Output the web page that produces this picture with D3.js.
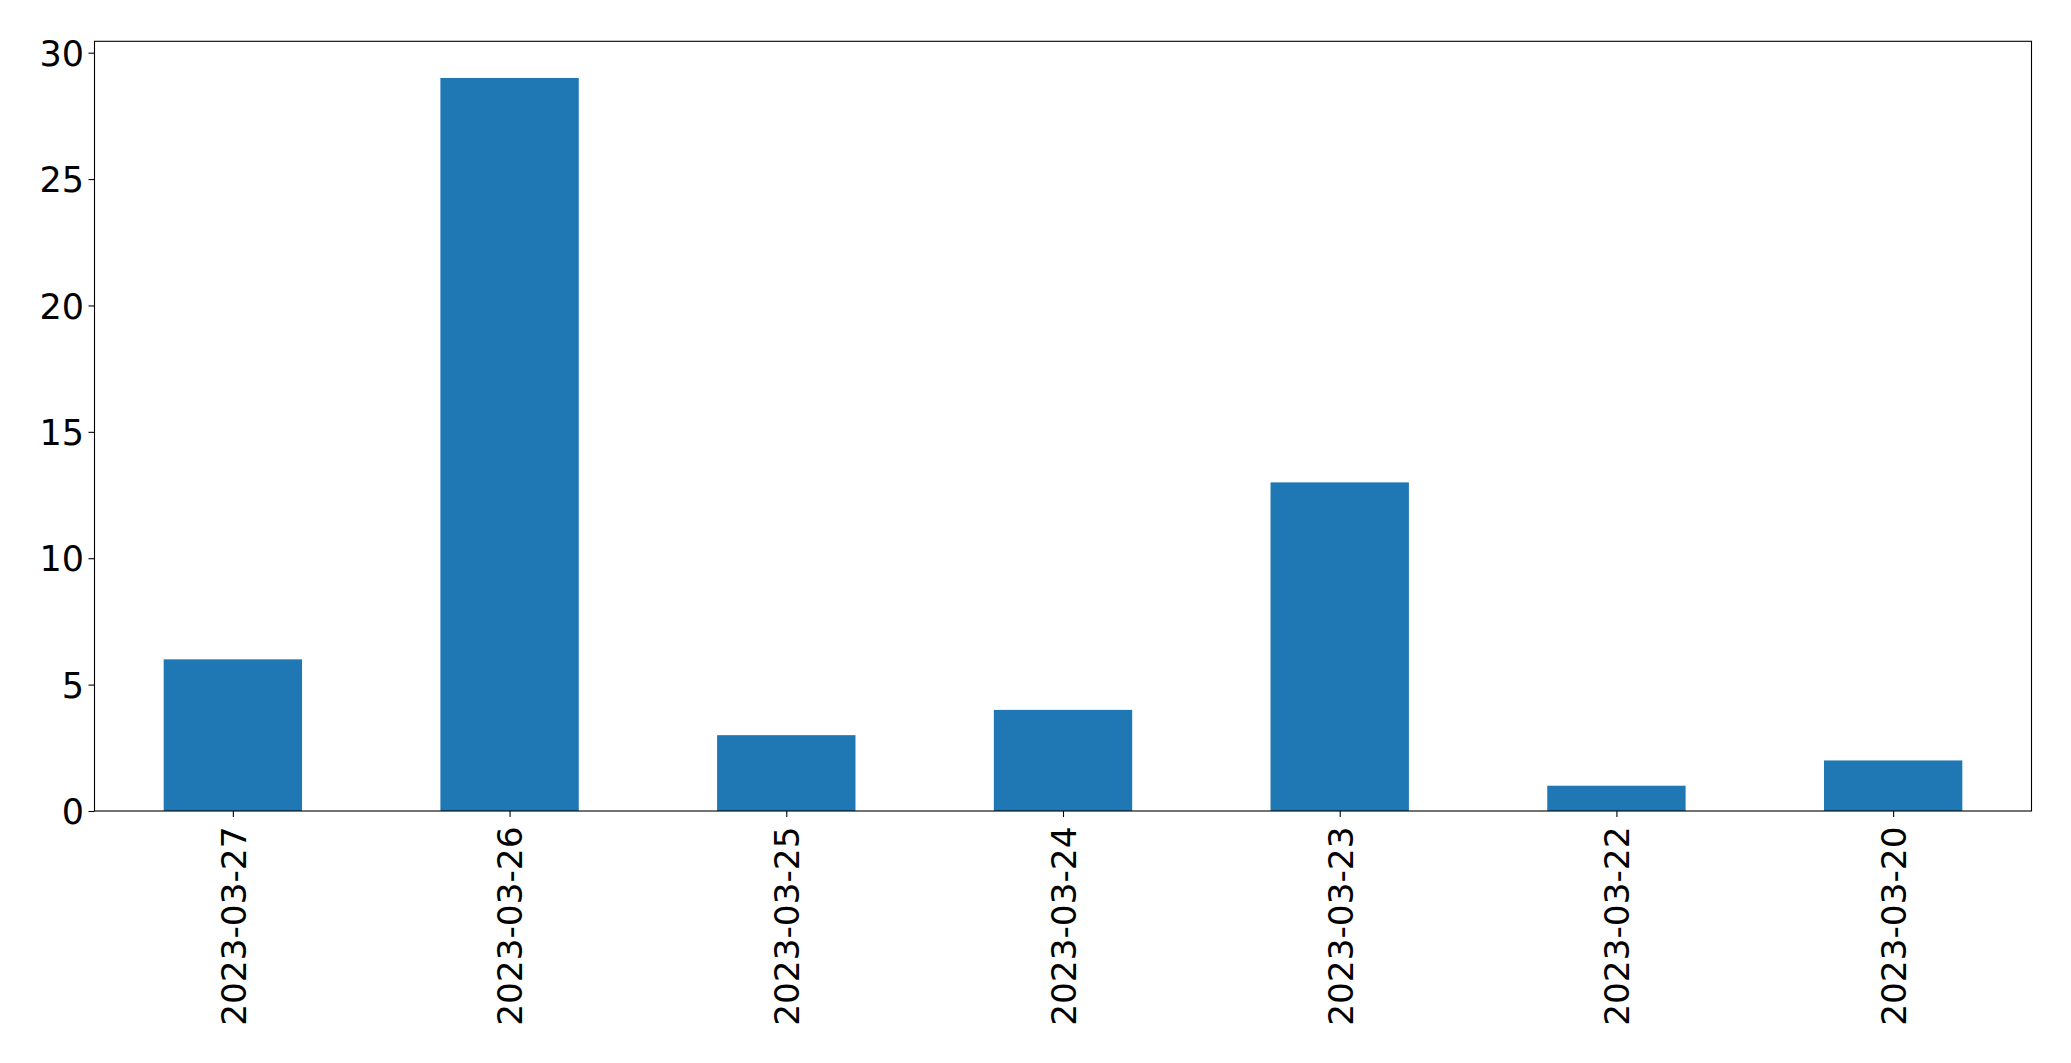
<!DOCTYPE html>
<html><head><meta charset="utf-8">
<script src="https://cdn.jsdelivr.net/npm/d3@7"></script>
<style>body{margin:0;background:#fff}svg{display:block}text{font-family:"DejaVu Sans",sans-serif}</style>
</head><body>
<script>
const categories = ["2023-03-27","2023-03-26","2023-03-25","2023-03-24","2023-03-23","2023-03-22","2023-03-20"];
const values = [6, 29, 3, 4, 13, 1, 2];
const yTicks = [0, 5, 10, 15, 20, 25, 30];

const W = 2071, H = 1063;
const L = 94.5, R = 2031.5, T = 41.3, B = 811;
const svg = d3.select("body").append("svg").attr("width", W).attr("height", H);

const x = d3.scaleLinear().domain([-0.5, categories.length - 0.5]).range([L, R]);
const y = d3.scaleLinear().domain([0, d3.max(values) * 1.05]).range([B, T]);
const bw = x(0.5) - x(0);

svg.append("g").selectAll("rect").data(values).join("rect")
  .attr("x", (d, i) => x(i) - bw / 2)
  .attr("width", bw)
  .attr("y", d => y(d))
  .attr("height", d => y(0) - y(d))
  .attr("fill", "#1f77b4");

svg.append("rect").attr("x", L).attr("y", T).attr("width", R - L).attr("height", B - T)
  .attr("fill", "none").attr("stroke", "#000").attr("stroke-width", 1.1);

const yAxis = d3.axisLeft(y).tickValues(yTicks).tickSize(6).tickPadding(4.5).tickFormat(d3.format("d"));
const gy = svg.append("g").attr("transform", `translate(${L},0)`).call(yAxis);
gy.select(".domain").remove();
gy.selectAll("line").attr("stroke", "#000").attr("stroke-width", 1.1);
gy.selectAll("text").attr("font-size", 35).attr("fill", "#000").attr("dy", "0.36em");

const xAxis = d3.axisBottom(x).tickValues(d3.range(categories.length)).tickSize(6).tickFormat(i => categories[i]);
const gx = svg.append("g").attr("transform", `translate(0,${B})`).call(xAxis);
gx.select(".domain").remove();
gx.selectAll("line").attr("stroke", "#000").attr("stroke-width", 1.1);
gx.selectAll("text").attr("font-size", 34.3).attr("fill", "#000")
  .attr("text-anchor", "end")
  .attr("transform", "rotate(-90)")
  .attr("x", -15.5).attr("y", 0).attr("dy", "0.36em");
</script>
</body></html>
